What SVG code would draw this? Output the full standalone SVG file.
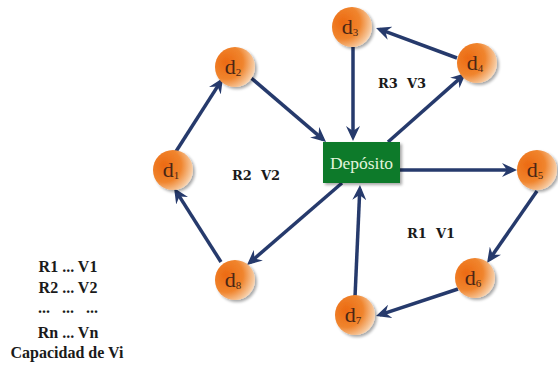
<svg xmlns="http://www.w3.org/2000/svg" width="558" height="367" viewBox="0 0 558 367">
<defs>
<radialGradient id="ball" cx="0.28" cy="0.38" r="0.85">
<stop offset="0" stop-color="#ec6a12"/>
<stop offset="0.5" stop-color="#f0852e"/>
<stop offset="0.8" stop-color="#f6c598"/>
<stop offset="1" stop-color="#fff7f0"/>
</radialGradient>
<filter id="sh" x="-30%" y="-30%" width="160%" height="160%">
<feGaussianBlur in="SourceAlpha" stdDeviation="1.5"/>
<feOffset dx="2" dy="2" result="b"/>
<feComponentTransfer><feFuncA type="linear" slope="0.35"/></feComponentTransfer>
<feMerge><feMergeNode/><feMergeNode in="SourceGraphic"/></feMerge>
</filter>
<marker id="ah" viewBox="-11 -7 15 14" refX="0" refY="0" markerWidth="15" markerHeight="14" markerUnits="userSpaceOnUse" orient="auto">
<path d="M4,0 L-11,-7 L-6,0 L-11,7 Z" fill="#263a6c"/>
</marker>
</defs>
<style>
.e{stroke:#263a6c;stroke-width:3.5;fill:none;marker-end:url(#ah)}
.n circle{fill:url(#ball)}
.lbl{font-family:'Liberation Serif',serif;font-size:22px;fill:#4a2614;text-anchor:middle}
.sub{font-size:11px}
.rv{font-family:'DejaVu Serif',serif;font-size:13px;font-weight:bold;fill:#1a1a1a;white-space:pre}
.leg{font-family:'Liberation Serif',serif;font-size:16px;font-weight:bold;fill:#1a1a1a;text-anchor:middle;white-space:pre}
</style>
<rect width="558" height="367" fill="#ffffff"/>
<g id="connectors">
<line class="e" x1="175" y1="153" x2="220.8" y2="81.4"/>
<line class="e" x1="250" y1="77" x2="323" y2="139.4"/>
<line class="e" x1="353" y1="47" x2="353" y2="137"/>
<line class="e" x1="388" y1="142" x2="463" y2="75.6"/>
<line class="e" x1="457" y1="58" x2="379.8" y2="29.4"/>
<line class="e" x1="400" y1="170" x2="513" y2="170"/>
<line class="e" x1="537" y1="191" x2="489.3" y2="259.7"/>
<line class="e" x1="458" y1="289" x2="379.8" y2="314.8"/>
<line class="e" x1="355" y1="297" x2="359.8" y2="189"/>
<line class="e" x1="342" y1="183" x2="250" y2="262.4"/>
<line class="e" x1="221" y1="262" x2="176.2" y2="191.4"/>
</g>
<g id="deposito">
<rect x="323" y="142" width="77" height="41" fill="#0c7a2c" filter="url(#sh)"/>
<text x="361.5" y="168.5" font-family="Liberation Serif, serif" font-size="17.5" fill="#e2f5dc" text-anchor="middle">Depósito</text>
</g>
<g id="d1" class="n"><circle cx="173" cy="170" r="20" filter="url(#sh)"/><text class="lbl" x="171" y="177">d<tspan class="sub" dy="2">1</tspan></text></g>
<g id="d2" class="n"><circle cx="235" cy="67" r="20" filter="url(#sh)"/><text class="lbl" x="233" y="74">d<tspan class="sub" dy="2">2</tspan></text></g>
<g id="d3" class="n"><circle cx="352" cy="27" r="20" filter="url(#sh)"/><text class="lbl" x="350" y="34">d<tspan class="sub" dy="2">3</tspan></text></g>
<g id="d4" class="n"><circle cx="477" cy="63" r="20" filter="url(#sh)"/><text class="lbl" x="475" y="70">d<tspan class="sub" dy="2">4</tspan></text></g>
<g id="d5" class="n"><circle cx="537" cy="170" r="20" filter="url(#sh)"/><text class="lbl" x="535" y="177">d<tspan class="sub" dy="2">5</tspan></text></g>
<g id="d6" class="n"><circle cx="475" cy="278" r="20" filter="url(#sh)"/><text class="lbl" x="473" y="285">d<tspan class="sub" dy="2">6</tspan></text></g>
<g id="d7" class="n"><circle cx="355" cy="315" r="20" filter="url(#sh)"/><text class="lbl" x="353" y="322">d<tspan class="sub" dy="2">7</tspan></text></g>
<g id="d8" class="n"><circle cx="235" cy="280" r="20" filter="url(#sh)"/><text class="lbl" x="233" y="287">d<tspan class="sub" dy="2">8</tspan></text></g>
<g id="labels">
<text class="rv" x="378" y="88">R3  V3</text>
<text class="rv" x="232" y="180">R2  V2</text>
<text class="rv" x="407" y="238">R1  V1</text>
</g>
<g id="legend">
<text class="leg" x="68" y="272">R1 ... V1</text>
<text class="leg" x="68" y="293">R2 ... V2</text>
<text class="leg" x="68" y="313">...   ...   ...</text>
<text class="leg" x="68" y="338">Rn ... Vn</text>
<text class="leg" x="67" y="358">Capacidad de Vi</text>
</g>
</svg>
